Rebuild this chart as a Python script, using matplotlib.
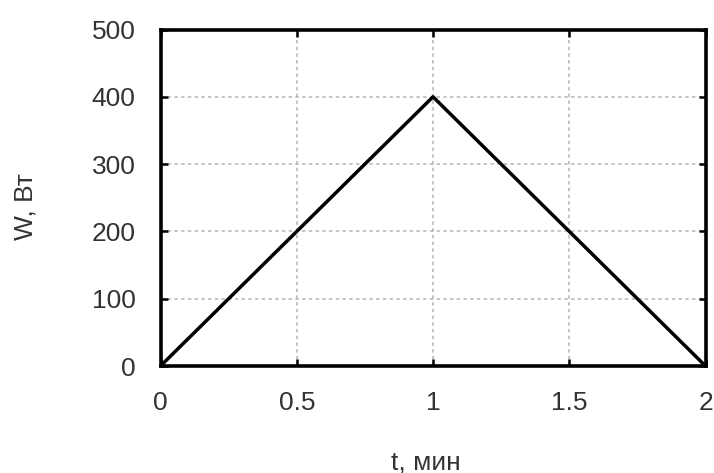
import matplotlib
matplotlib.use('Agg')
import matplotlib.pyplot as plt

t = [0, 1, 2]
w = [0, 400, 0]
xticks = [0, 0.5, 1, 1.5, 2]
xlabels = ['0', '0.5', '1', '1.5', '2']
yticks = [0, 100, 200, 300, 400, 500]

plt.rcParams['font.family'] = ['Liberation Sans', 'DejaVu Sans']
txt = '#333333'

fig = plt.figure(figsize=(7.14, 4.73), dpi=100)
ax = fig.add_axes([0.2248, 0.2262, 0.7633, 0.7114])

ax.plot(t, w, color='black', lw=2.5, zorder=3)

ax.set_xlim(0, 2)
ax.set_ylim(0, 500)
ax.set_xticks(xticks)
ax.set_xticklabels(xlabels)
ax.set_yticks(yticks)
ax.grid(True, color='#b4b4b4', linestyle=(0, (2.2, 2.2)), lw=1.1)
ax.tick_params(direction='in', length=5, width=1.8, labelsize=19, labelcolor=txt,
               top=True, right=True)
ax.tick_params(axis='x', pad=18)
ax.tick_params(axis='y', pad=18)
for s in ax.spines.values():
    s.set_linewidth(2.6)

fig.text(426 / 714, 1 - 469 / 473, 't, мин', fontsize=19, color=txt,
         ha='center', va='baseline')
fig.text(33 / 714, 1 - 207 / 473, 'W, Вт', fontsize=19, color=txt,
         rotation=90, rotation_mode='anchor', ha='center', va='baseline')

fig.savefig('out.png', dpi=100)
